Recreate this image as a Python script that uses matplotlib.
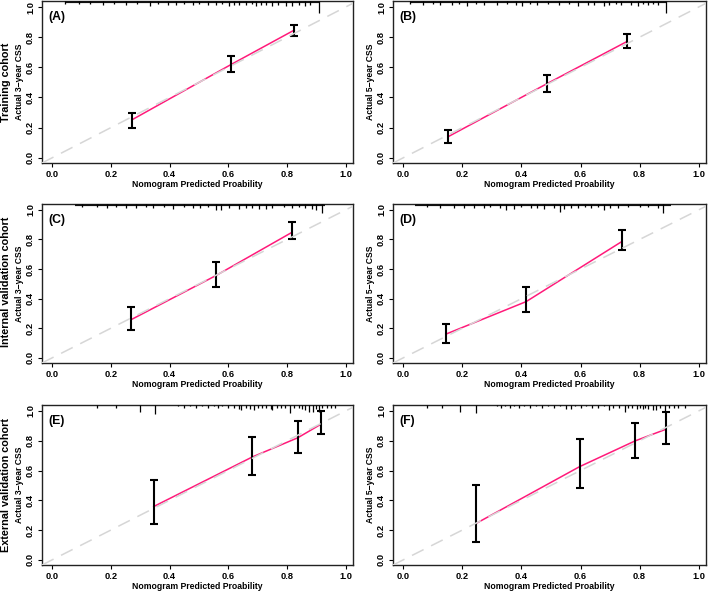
import matplotlib
matplotlib.use('Agg')
import matplotlib.pyplot as plt
import matplotlib.transforms as mtransforms

plt.rcParams['font.family'] = ['Liberation Sans', 'DejaVu Sans']
plt.rcParams['font.weight'] = 'bold'

# calibration points: predicted probability, observed, lower and upper CI
a_pred = [0.272, 0.609, 0.825]
a_obs = [0.252, 0.618, 0.847]
a_lo = [0.196, 0.569, 0.808]
a_hi = [0.295, 0.674, 0.884]

b_pred = [0.152, 0.485, 0.758]
b_obs = [0.140, 0.490, 0.772]
b_lo = [0.096, 0.438, 0.728]
b_hi = [0.181, 0.548, 0.819]

c_pred = [0.269, 0.558, 0.816]
c_obs = [0.258, 0.556, 0.847]
c_lo = [0.191, 0.481, 0.802]
c_hi = [0.342, 0.649, 0.917]

d_pred = [0.144, 0.416, 0.739]
d_obs = [0.160, 0.380, 0.785]
d_lo = [0.100, 0.309, 0.727]
d_hi = [0.230, 0.476, 0.865]

e_pred = [0.346, 0.681, 0.837, 0.916]
e_obs = [0.358, 0.690, 0.820, 0.911]
e_lo = [0.238, 0.569, 0.718, 0.844]
e_hi = [0.538, 0.827, 0.931, 0.998]

f_pred = [0.247, 0.597, 0.785, 0.889]
f_obs = [0.245, 0.626, 0.799, 0.877]
f_lo = [0.119, 0.483, 0.687, 0.781]
f_hi = [0.501, 0.814, 0.917, 0.993]

# rug of predicted probabilities along the top (position, tick height in px)
a_rug_range = [0.044, 0.91]
a_rug_x = [0.044, 0.09, 0.13, 0.174, 0.21, 0.253, 0.29, 0.332, 0.36, 0.394, 0.423, 0.45, 0.479, 0.50, 0.53, 0.558, 0.58,
           0.603, 0.62, 0.637, 0.66, 0.68, 0.694, 0.71, 0.728, 0.75, 0.77, 0.796, 0.818, 0.841, 0.863, 0.88, 0.91]
a_rug_h = [2, 2, 2, 3, 2, 3, 2, 4, 2, 3, 3, 2, 3, 2, 3, 3, 2, 4, 3, 3, 3, 2, 4, 3, 3, 4, 3, 4, 4, 3, 4, 3, 9]

b_rug_range = [0.022, 0.89]
b_rug_x = [0.022, 0.067, 0.10, 0.124, 0.164, 0.19, 0.215, 0.245, 0.272, 0.318, 0.35, 0.38, 0.403, 0.43, 0.454, 0.49,
           0.527, 0.56, 0.59, 0.624, 0.647, 0.681, 0.698, 0.72, 0.738, 0.772, 0.795, 0.81, 0.829, 0.845, 0.863, 0.89]
b_rug_h = [2, 3, 2, 3, 3, 2, 4, 2, 3, 3, 2, 3, 4, 2, 3, 2, 3, 2, 4, 3, 3, 4, 3, 2, 3, 3, 4, 2, 3, 2, 3, 9]

c_rug_range = [0.078, 0.931]
c_rug_x = [0.10, 0.152, 0.185, 0.219, 0.253, 0.287, 0.32, 0.343, 0.38, 0.411, 0.45, 0.479, 0.502, 0.53, 0.558, 0.575,
           0.603, 0.637, 0.66, 0.682, 0.705, 0.728, 0.75, 0.79, 0.818, 0.84, 0.863, 0.886, 0.90, 0.92]
c_rug_h = [2, 2, 3, 2, 3, 3, 2, 3, 2, 4, 2, 3, 3, 2, 5, 5, 3, 4, 3, 3, 4, 4, 3, 2, 3, 2, 3, 4, 5, 7]

d_rug_range = [0.039, 0.908]
d_rug_x = [0.079, 0.124, 0.17, 0.204, 0.238, 0.272, 0.295, 0.329, 0.346, 0.374, 0.40, 0.431, 0.454, 0.476, 0.51, 0.531,
           0.544, 0.567, 0.59, 0.615, 0.637, 0.66, 0.681, 0.70, 0.726, 0.76, 0.80, 0.83, 0.863, 0.88]
d_rug_h = [2, 3, 3, 3, 3, 3, 2, 3, 5, 4, 2, 3, 3, 4, 3, 6, 4, 3, 3, 2, 3, 2, 5, 3, 3, 2, 2, 2, 3, 7]

e_rug_range = None
e_rug_x = [0.152, 0.219, 0.298, 0.349, 0.43, 0.45, 0.47, 0.49, 0.51, 0.53, 0.55, 0.565, 0.58, 0.60, 0.62, 0.635, 0.645,
           0.66, 0.675, 0.687, 0.70, 0.715, 0.73, 0.745, 0.75, 0.765, 0.78, 0.795, 0.81, 0.825, 0.84, 0.85, 0.862,
           0.875, 0.889, 0.90, 0.908, 0.92, 0.935, 0.95, 0.965]
e_rug_h = [2, 2, 5, 7, 1, 2, 1, 2, 1, 2, 1, 2, 1, 2, 2, 3, 4, 2, 3, 4, 2, 2, 2, 3, 4, 2, 2, 2, 6, 2, 2, 3, 4,
           5, 5, 3, 5, 2, 2, 2, 2]

f_rug_range = None
f_rug_x = [0.081, 0.13, 0.193, 0.247, 0.317, 0.33, 0.345, 0.36, 0.375, 0.39, 0.41, 0.43, 0.45, 0.47, 0.49, 0.51, 0.53,
           0.55, 0.567, 0.58, 0.60, 0.62, 0.64, 0.66, 0.68, 0.698, 0.71, 0.73, 0.749, 0.76, 0.775, 0.79, 0.80, 0.81,
           0.82, 0.83, 0.846, 0.857, 0.87, 0.885, 0.90, 0.915, 0.93, 0.953]
f_rug_h = [2, 2, 5, 6, 1, 2, 1, 2, 1, 2, 1, 2, 1, 2, 1, 2, 1, 3, 3, 1, 2, 1, 2, 2, 1, 4, 2, 2, 5, 2, 2, 3, 2, 3,
           2, 3, 4, 4, 2, 5, 2, 2, 2, 2]

tick_values = [0.0, 0.2, 0.4, 0.6, 0.8, 1.0]
tick_labels = ['0.0', '0.2', '0.4', '0.6', '0.8', '1.0']
row_names = ['Training cohort', 'Internal validation cohort', 'External validation cohort']
panel_names = ['(A)', '(B)', '(C)', '(D)', '(E)', '(F)']
y_titles = ['Actual 3\u2212year CSS', 'Actual 5\u2212year CSS']
x_title = 'Nomogram Predicted Proability'

panels = [
    (a_pred, a_obs, a_lo, a_hi, a_rug_range, a_rug_x, a_rug_h),
    (b_pred, b_obs, b_lo, b_hi, b_rug_range, b_rug_x, b_rug_h),
    (c_pred, c_obs, c_lo, c_hi, c_rug_range, c_rug_x, c_rug_h),
    (d_pred, d_obs, d_lo, d_hi, d_rug_range, d_rug_x, d_rug_h),
    (e_pred, e_obs, e_lo, e_hi, e_rug_range, e_rug_x, e_rug_h),
    (f_pred, f_obs, f_lo, f_hi, f_rug_range, f_rug_x, f_rug_h),
]

fig = plt.figure(figsize=(7.09, 5.93), dpi=100)

# axes boxes in figure fractions (left, bottom, width, height)
row_bottoms = [0.7251, 0.3879, 0.0472]
row_heights = [0.2732, 0.2681, 0.2698]
col_lefts = [0.0592, 0.5543]
col_widths = [0.4386, 0.4415]

for i, (pred, obs, lo, hi, rug_range, rug_x, rug_h) in enumerate(panels):
    row = i // 2
    col = i % 2
    ax = fig.add_axes([col_lefts[col], row_bottoms[row], col_widths[col], row_heights[row]])
    ax.set_xlim(-0.035, 1.025)
    ax.set_ylim(-0.035, 1.04)

    # apparent calibration line
    ax.plot(pred, obs, color='#FF1A7A', lw=1.1, zorder=2)
    # error bars for observed
    ax.errorbar(pred, obs, yerr=[[o - l for o, l in zip(obs, lo)], [h - o for o, h in zip(obs, hi)]],
                fmt='none', ecolor='black', elinewidth=1.5, capsize=2.6, capthick=1.5, zorder=3)
    # ideal line on top
    ax.plot([-0.1, 1.1], [-0.1, 1.1], color='#D6D6D6', lw=1.1, linestyle=(0, (8.5, 5.5)), zorder=4)

    # rug along the top edge
    trans = mtransforms.blended_transform_factory(ax.transData, ax.transAxes)
    ax_h_px = row_heights[row] * 593
    if rug_range is not None:
        ax.plot(rug_range, [1, 1], color='#111111', lw=3.0, solid_capstyle='butt', transform=trans, zorder=5)
    ax.vlines(rug_x, [1 - 1.3 * h / ax_h_px for h in rug_h], 1, color='black', lw=0.9, transform=trans, zorder=5)

    for s in ax.spines.values():
        s.set_linewidth(1.0)
        s.set_color('#222222')

    ax.set_xticks(tick_values)
    ax.set_xticklabels(tick_labels)
    ax.set_yticks(tick_values)
    ax.set_yticklabels(tick_labels, rotation=90, va='center')
    ax.tick_params(direction='out', length=3, width=0.8, labelsize=6.7, pad=2)

    ax.set_xlabel(x_title, fontsize=6.2, fontweight='bold')
    ax.xaxis.set_label_coords(0.5, -0.105)
    ax.set_ylabel(y_titles[col], fontsize=6.2, fontweight='bold')
    ax.yaxis.set_label_coords(-0.058, 0.5)

    ax.text(0.02, 0.9, panel_names[i], transform=ax.transAxes, fontsize=8.8, fontweight='bold',
            ha='left', va='center')

# row titles on the far left
row_centers = [0.8617, 0.525, 0.182]
for name, yc in zip(row_names, row_centers):
    fig.text(0.008, yc, name, rotation=90, fontsize=7.8, fontweight='bold', ha='center', va='center')

fig.savefig('out.png', dpi=100)
